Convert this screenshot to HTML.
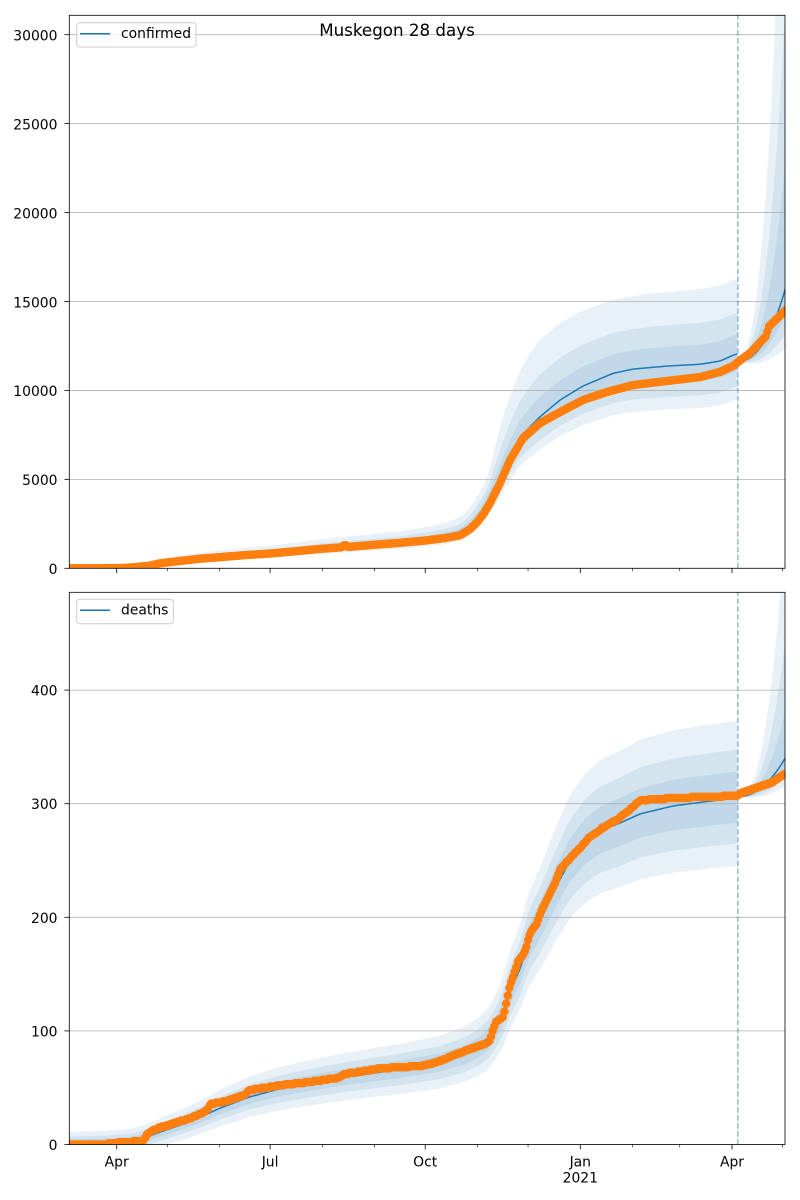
<!DOCTYPE html>
<html><head><meta charset="utf-8">
<style>
html,body{margin:0;padding:0;background:#fff;}
svg{display:block;}
text{font-family:"DejaVu Sans","Liberation Sans",sans-serif;fill:#000;}
</style></head>
<body>
<svg id="s" width="800" height="1200" viewBox="0 0 800 1200" xmlns="http://www.w3.org/2000/svg">
<defs>
<clipPath id="c1"><rect x="69.3" y="15.3" width="715.7" height="553"/></clipPath>
<clipPath id="c2"><rect x="69.3" y="592.3" width="715.7" height="552.2"/></clipPath>
</defs>
<rect x="0" y="0" width="800" height="1200" fill="#fff"/>
<g id="g1" clip-path="url(#c1)"></g>
<g id="g2" clip-path="url(#c2)"></g>
<g id="axes"></g>

<!-- Title -->
<text x="397" y="36" font-size="16.7" text-anchor="middle">Muskegon 28 days</text>

<!-- Top y tick labels -->
<g font-size="13.9" text-anchor="end">
<text x="57.5" y="574">0</text>
<text x="57.5" y="485">5000</text>
<text x="57.5" y="396.2">10000</text>
<text x="57.5" y="307.3">15000</text>
<text x="57.5" y="218.4">20000</text>
<text x="57.5" y="129.4">25000</text>
<text x="57.5" y="40.5">30000</text>
</g>
<!-- Bottom y tick labels -->
<g font-size="13.9" text-anchor="end">
<text x="57.5" y="1150">0</text>
<text x="57.5" y="1036.4">100</text>
<text x="57.5" y="922.8">200</text>
<text x="57.5" y="809.2">300</text>
<text x="57.5" y="695.6">400</text>
</g>
<!-- X tick labels -->
<g font-size="13.9" text-anchor="middle">
<text x="116.7" y="1166.7">Apr</text>
<text x="270.1" y="1166.7">Jul</text>
<text x="425.2" y="1166.7">Oct</text>
<text x="580.3" y="1166.7">Jan</text>
<text x="580.3" y="1182.5">2021</text>
<text x="732" y="1166.7">Apr</text>
</g>

<!-- Legends -->
<rect x="76.7" y="22.7" width="119.3" height="24.3" rx="3" ry="3" fill="#fff" fill-opacity="0.8" stroke="#cccccc" stroke-width="1"/>
<line x1="80" y1="33.8" x2="110" y2="33.8" stroke="#1f77b4" stroke-width="1.5"/>
<text x="121" y="37.8" font-size="13.9">confirmed</text>

<rect x="76.7" y="599.3" width="96.6" height="24.5" rx="3" ry="3" fill="#fff" fill-opacity="0.8" stroke="#cccccc" stroke-width="1"/>
<line x1="80" y1="610.3" x2="110" y2="610.3" stroke="#1f77b4" stroke-width="1.5"/>
<text x="121" y="614.5" font-size="13.9">deaths</text>
</svg>
<script>
(function(){
const NS="http://www.w3.org/2000/svg";
function el(p,tag,a){const e=document.createElementNS(NS,tag);for(const k in a)e.setAttribute(k,a[k]);p.appendChild(e);return e;}
function lin(kn,x){
  if(x<=kn[0][0])return kn[0][1];
  for(let i=1;i<kn.length;i++){if(x<=kn[i][0]){const a=kn[i-1],b=kn[i];return a[1]+(b[1]-a[1])*(x-a[0])/(b[0]-a[0]);}}
  return kn[kn.length-1][1];
}
function smooth(vs,win){
  return vs.map((v,i)=>{let s=0,n=0;for(let j=i-win;j<=i+win;j++){if(j>=0&&j<vs.length){s+=vs[j];n++;}}return s/n;});
}
const xd=d=>116.7+1.6858*d;
const f=v=>v.toFixed(2);
function poly(g,xs,up,lo){
  let s="M"+f(xs[0])+","+f(up[0]);
  for(let i=1;i<xs.length;i++)s+="L"+f(xs[i])+","+f(up[i]);
  for(let i=xs.length-1;i>=0;i--)s+="L"+f(xs[i])+","+f(lo[i]);
  s+="Z";
  el(g,"path",{d:s,fill:"#1f77b4","fill-opacity":"0.1",stroke:"none"});
}
function line(g,xs,ys){
  let s="M"+f(xs[0])+","+f(ys[0]);
  for(let i=1;i<xs.length;i++)s+="L"+f(xs[i])+","+f(ys[i]);
  el(g,"path",{d:s,fill:"none",stroke:"#1f77b4","stroke-width":"1.5","stroke-linejoin":"round"});
}
function clampY(y){return Math.max(-2000,Math.min(3000,y));}

function panel(cfg){
  const g=document.getElementById(cfg.gid);
  const yf=cfg.yf;
  const xs=[];for(let x=69.3;x<=737.5+1e-9;x+=1)xs.push(x);
  const M=smooth(xs.map(x=>lin(cfg.med,x)),3);
  // outer upper
  let OU;
  if(cfg.ouKn){
    OU=smooth(xs.map((x,i)=>x<cfg.ouKn[0][0]?M[i]*1.35+150:lin(cfg.ouKn,x)),3);
  }
  for(let k=0;k<3;k++){
    let up;
    if(OU){const fr=[1,0.55,0.26][k];up=M.map((m,i)=>clampY(yf(m+fr*(OU[i]-m))));}
    else up=M.map((m,i)=>clampY(yf(cfg.up[k](m))));
    const lo=M.map((m,i)=>clampY(yf(cfg.lo[k](m))));
    poly(g,xs,up,lo);
  }
  const fx=[],fm=[];
  for(let x=737.8;x<=787;x+=0.5){fx.push(x);const t=(x-737.8)/(785-737.8);fm.push(t);}
  const FM=fm.map(t=>cfg.fM(t));
  for(let k=0;k<3;k++){
    const up=fm.map((t,i)=>clampY(yf(FM[i]*(1+cfg.fa[k]*Math.pow(t,cfg.fe)))));
    const lo=fm.map((t,i)=>clampY(yf(FM[i]*(1-cfg.fb[k]*Math.pow(t,1.5)))));
    poly(g,fx,up,lo);
  }
  cfg.ticks.forEach(v=>{const y=yf(v);el(g,"line",{x1:69.3,x2:785,y1:y,y2:y,stroke:"#b0b0b0","stroke-width":"0.8"});});
  el(g,"line",{x1:737.8,x2:737.8,y1:cfg.ybot,y2:cfg.ytop,stroke:"#1f77b4","stroke-opacity":"0.5","stroke-width":"1.5","stroke-dasharray":"5.55 2.4"});
  line(g,xs,M.map(yf));
  line(g,fx,FM.map(m=>clampY(yf(m))));
  for(let d=-28;d<=397;d++){
    const x=xd(d);
    let v=lin(cfg.obs,x);
    if(cfg.round)v=Math.round(v);
    el(g,"circle",{cx:f(x),cy:f(yf(v)),r:"4.25",fill:"#ff7f0e"});
  }
  const a=document.getElementById("axes");
  el(a,"rect",{x:69.3,y:cfg.ytop,width:715.7,height:cfg.ybot-cfg.ytop,fill:"none",stroke:"#000","stroke-width":"0.8"});
  cfg.ticks.forEach(v=>{const y=yf(v);el(a,"line",{x1:64.44,x2:69.3,y1:y,y2:y,stroke:"#000","stroke-width":"0.8"});});
  [0,91,183,275,365].forEach(d=>{const x=xd(d);el(a,"line",{x1:x,x2:x,y1:cfg.ybot,y2:cfg.ybot+4.86,stroke:"#000","stroke-width":"0.8"});});
  [30,61,122,153,214,244,306,334,395].forEach(d=>{const x=xd(d);el(a,"line",{x1:x,x2:x,y1:cfg.ybot,y2:cfg.ybot+2.78,stroke:"#000","stroke-width":"0.6"});});
}

// ---------- top: confirmed ----------
panel({
  gid:"g1", ytop:15.3, ybot:568.3,
  yf:v=>568.3-v*0.017787,
  ticks:[0,5000,10000,15000,20000,25000,30000],
  med:[[69.3,0],[120,10],[135,60],[150,150],[160,280],[200,540],[219,620],[245,740],[270,830],[300,980],[322,1100],[374,1320],[400,1430],[425,1600],[445,1780],[460,2000],[470,2400],[477,2850],[484,3400],[490,4000],[500,5100],[510,6300],[520,7380],[540,8520],[560,9460],[583,10250],[613,10960],[633,11200],[667,11370],[700,11470],[720,11650],[737.5,12090]],
  ouKn:[[470,3390],[480,4300],[488,5200],[497,7300],[505,8900],[512,10000],[520,11100],[530,12100],[540,12850],[560,13800],[583,14500],[613,15100],[650,15450],[700,15700],[720,15900],[737.5,16300]],
  lo:[m=>m*0.79-50,m=>m*0.85-30,m=>m*0.92-15],
  fM:t=>11600*Math.exp(0.30*t*t),
  fa:[2.0,1.0,0.45], fe:2.2,
  fb:[0.21,0.16,0.09],
  obs:[[69.3,0],[120,10],[135,60],[150,150],[160,280],[200,540],[219,620],[245,740],[270,830],[300,980],[322,1100],[342,1180],[345,1330],[348,1200],[374,1320],[400,1430],[425,1560],[445,1700],[460,1850],[470,2200],[477,2590],[484,3100],[490,3660],[500,4790],[510,6080],[523,7320],[540,8160],[560,8780],[583,9460],[607,9910],[633,10300],[667,10530],[700,10750],[720,11040],[733,11370],[738,11600],[750,12100],[766,13050],[769,13600],[783,14360],[790,14800]],
  round:false
});

// ---------- bottom: deaths ----------
panel({
  gid:"g2", ytop:592.3, ybot:1144.5,
  yf:v=>1144.5-v*1.136,
  ticks:[0,100,200,300,400],
  med:[[69.3,1],[100,1.5],[130,3],[145,6],[160,11],[180,17],[200,24],[220,32],[250,42],[280,49],[310,54],[350,60],[400,66],[440,72],[465,79],[480,86],[490,94],[501.7,112],[510,135],[520,154],[528,177],[542,200],[555,225],[570,250],[585,266],[600,276],[620,283],[640,291],[673,298],[707,302],[737.5,305]],
  up:[m=>m+(0.19*m+10),m=>m+(0.12*m+6),m=>m+(0.065*m+3.5)],
  lo:[m=>m-(0.16*m+11),m=>m-(0.11*m+6.5),m=>m-(0.06*m+3.5)],
  fM:t=>306*Math.exp(0.105*t*t),
  fa:[0.6,0.3,0.12], fe:2.5,
  fb:[0.07,0.05,0.03],
  obs:[[69.3,0],[106,0],[110,1],[125,2],[140,3],[144,4],[147,9],[152,12],[160,15],[175,19],[190,23],[200,27],[207,30],[211,36],[225,38],[235,41],[245,44],[250,48],[265,50],[280,52],[310,55],[340,59],[345,62],[360,64],[380,67],[420,69],[435,72],[445,75],[455,79],[470,84],[487,89],[490,92],[493,101],[496,108],[503,112],[506,123],[510,140],[514,150],[518,161],[525,170],[530,186],[537,195],[542,207],[548,218],[555,230],[560,242],[570,252],[580,261],[590,271],[603,279],[617,286],[630,295],[640,303],[673,305],[707,306],[737,307],[743,310],[760,315],[773,319],[783,325],[790,328]],
  round:true
});
})();
</script>
</body></html>
